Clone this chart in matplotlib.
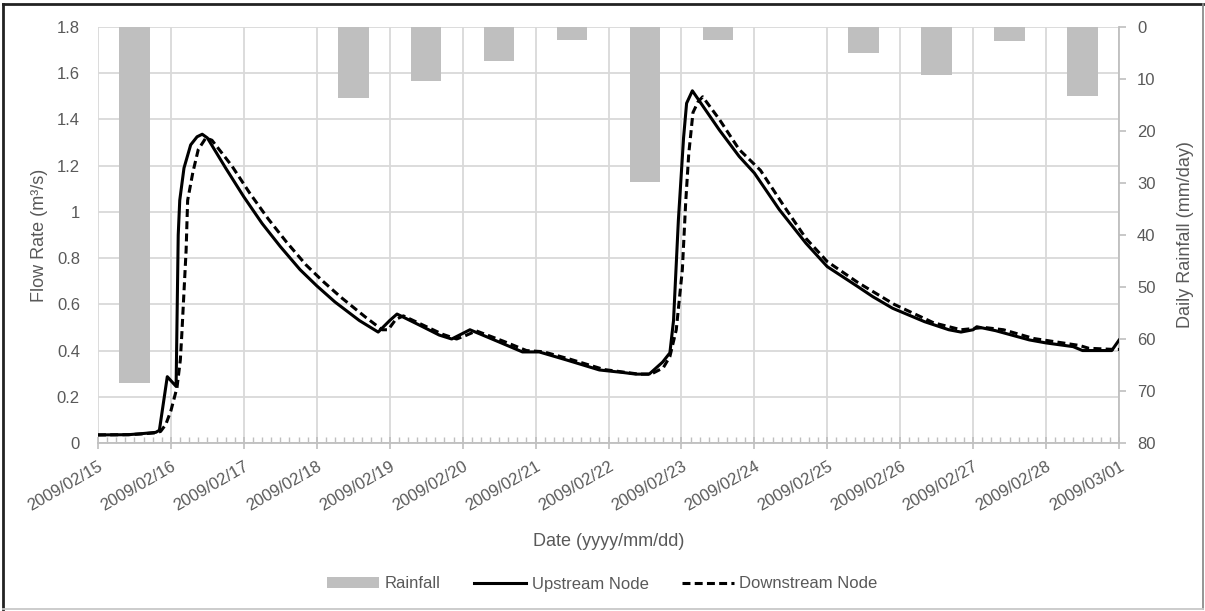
import matplotlib
matplotlib.use("Agg")
import matplotlib.pyplot as plt
import matplotlib.dates as mdates
from matplotlib.lines import Line2D
from matplotlib.patches import Patch
import pandas as pd

plt.rcParams["font.family"] = ["Liberation Sans", "DejaVu Sans"]

START = pd.Timestamp("2009-02-15 00:00")
END = pd.Timestamp("2009-03-01 00:00")

# Daily rainfall (mm/day), one bar per day centred at noon
rain_days = ["2009-02-15", "2009-02-16", "2009-02-17", "2009-02-18", "2009-02-19",
             "2009-02-20", "2009-02-21", "2009-02-22", "2009-02-23", "2009-02-24",
             "2009-02-25", "2009-02-26", "2009-02-27", "2009-02-28"]
rain_mm = [68.5, 0.0, 0.0, 13.6, 10.4, 6.5, 2.5, 29.8, 2.5, 0.0, 5.0, 9.2, 2.6, 13.2]

# Upstream node flow (m3/s), time in hours after 2009-02-15 00:00
up_hours = [0, 10, 14, 19, 20.2, 22.8, 25.7, 26.4, 26.9, 28.3, 30.5, 32.6, 34.3, 36,
            42, 48, 54, 60, 66.5, 72, 78, 86, 92.2, 96, 98.4, 105.8, 112.3, 116.4,
            122.4, 132, 139.7, 145.2, 154, 165, 172.8, 177, 181.4, 185.8, 188.2,
            189.4, 191, 192.7, 193.7, 195.6, 204.5, 211, 216, 224.2, 233, 240, 250,
            255, 261.5, 272, 280, 284, 288, 289.2, 295.4, 306.5, 312, 320.9, 324,
            332, 333.6, 336]
up_flow = [0.035, 0.036, 0.040, 0.046, 0.055, 0.287, 0.245, 0.90, 1.05, 1.19, 1.29,
           1.325, 1.336, 1.32, 1.19, 1.065, 0.95, 0.85, 0.75, 0.68, 0.61, 0.53, 0.48,
           0.53, 0.558, 0.51, 0.467, 0.45, 0.49, 0.437, 0.394, 0.394, 0.36, 0.316,
           0.305, 0.298, 0.298, 0.35, 0.39, 0.53, 0.965, 1.32, 1.47, 1.524, 1.354,
           1.24, 1.168, 1.01, 0.864, 0.763, 0.677, 0.633, 0.583, 0.525, 0.49, 0.48,
           0.49, 0.503, 0.486, 0.446, 0.433, 0.417, 0.40, 0.40, 0.40, 0.445]

# Downstream node flow (m3/s)
down_hours = [0, 10, 14, 19, 20.6, 22.3, 24, 25.2, 26, 27.1, 27.6, 29, 29.5, 31.2,
              33, 35.5, 37.5, 44, 50, 56, 62, 68.5, 74, 80, 88, 93.5, 95.5, 98,
              100.5, 107, 113.5, 118, 121, 124.5, 133.5, 141, 146.5, 155.5, 166.5,
              174, 178, 182, 186, 188.2, 190.3, 192.3, 193.4, 194.4, 195.8, 197.5,
              199, 204.5, 211, 218, 226, 233, 240, 250, 262, 275, 284, 291.6, 298,
              308, 314, 323, 326, 334, 336]
down_flow = [0.035, 0.036, 0.039, 0.044, 0.05, 0.08, 0.14, 0.2, 0.24, 0.36, 0.475,
             0.835, 1.05, 1.17, 1.27, 1.32, 1.31, 1.20, 1.08, 0.97, 0.87, 0.77,
             0.70, 0.63, 0.545, 0.49, 0.49, 0.535, 0.55, 0.51, 0.47, 0.45, 0.465,
             0.485, 0.44, 0.40, 0.395, 0.362, 0.318, 0.305, 0.298, 0.298, 0.325,
             0.374, 0.49, 0.75, 1.04, 1.25, 1.43, 1.477, 1.498, 1.40, 1.27, 1.18,
             1.02, 0.885, 0.785, 0.695, 0.60, 0.52, 0.49, 0.50, 0.49, 0.452, 0.44,
             0.422, 0.41, 0.405, 0.405]

up_t = START + pd.to_timedelta(up_hours, unit="h")
down_t = START + pd.to_timedelta(down_hours, unit="h")
rain_t = pd.to_datetime(rain_days) + pd.Timedelta(hours=12)

TEXT = "#595959"
GRID = "#d9d9d9"
AXIS = "#bfbfbf"
BAR = "#bfbfbf"
FS = 12
LW = 2.2
DASH = (0, (2.6, 1.4))

fig = plt.figure(figsize=(12.05, 6.11), dpi=100)
rect = [98 / 1205, 1 - 443 / 611, (1119 - 98) / 1205, (443 - 27) / 611]

# flow scale: grid, bottom axis and left labels
ax = fig.add_axes(rect)
ax.set_xlim(START, END)
ax.set_ylim(0, 1.8)
ax.set_yticks([0, 0.2, 0.4, 0.6, 0.8, 1.0, 1.2, 1.4, 1.6, 1.8])
ax.set_yticklabels(["0", "0.2", "0.4", "0.6", "0.8", "1", "1.2", "1.4", "1.6", "1.8"])
ax.xaxis.set_major_locator(mdates.DayLocator())
ax.xaxis.set_major_formatter(mdates.DateFormatter("%Y/%m/%d"))
ax.xaxis.set_minor_locator(mdates.HourLocator(byhour=range(0, 24, 3)))
ax.grid(True, which="major", color=GRID, linewidth=1.3)
ax.set_axisbelow(True)
for side in ["top", "left", "right"]:
    ax.spines[side].set_visible(False)
ax.spines["bottom"].set_color(AXIS)
ax.spines["bottom"].set_linewidth(1.3)
ax.tick_params(axis="y", length=0, pad=13, labelsize=FS, labelcolor=TEXT)
ax.tick_params(axis="x", which="major", direction="inout", length=9, width=1.2,
               color=AXIS, labelsize=FS, labelcolor=TEXT, pad=7)
ax.tick_params(axis="x", which="minor", direction="in", length=4, width=1.0, color=AXIS)
for lab in ax.get_xticklabels():
    lab.set_rotation(30)
    lab.set_ha("right")
    lab.set_va("top")
    lab.set_rotation_mode("anchor")
ax.set_ylabel("Flow Rate (m³/s)", fontsize=13, color=TEXT, labelpad=6)
ax.set_xlabel("Date (yyyy/mm/dd)", fontsize=13, color=TEXT, labelpad=14)

# rainfall scale on the right, inverted
axr = ax.twinx()
axr.set_ylim(80, 0)
axr.set_yticks(range(0, 81, 10))
axr.bar(rain_t, rain_mm, width=0.42, color=BAR, zorder=2)
for side in ["top", "left", "bottom"]:
    axr.spines[side].set_visible(False)
axr.spines["right"].set_color(AXIS)
axr.spines["right"].set_linewidth(1.3)
axr.tick_params(axis="y", direction="out", length=5, width=1.2, color=AXIS,
                labelsize=FS, labelcolor=TEXT, pad=8)
axr.set_ylabel("Daily Rainfall (mm/day)", fontsize=13, color=TEXT, labelpad=15)

# flow lines drawn above the bars
axl = fig.add_axes(rect, sharex=ax, sharey=ax)
axl.patch.set_visible(False)
axl.axis("off")
axl.plot(up_t, up_flow, color="black", linewidth=LW, solid_joinstyle="round")
axl.plot(down_t, down_flow, color="black", linewidth=LW, linestyle=DASH)
axl.set_xlim(START, END)
axl.set_ylim(0, 1.8)

handles = [
    Patch(facecolor=BAR, edgecolor="none", label="Rainfall"),
    Line2D([], [], color="black", linewidth=LW, label="Upstream Node"),
    Line2D([], [], color="black", linewidth=LW, linestyle=DASH, label="Downstream Node"),
]
leg = fig.legend(handles=handles, loc="center", bbox_to_anchor=(0.5, 1 - 584 / 611),
                 ncol=3, frameon=False, fontsize=FS, handlelength=3.1,
                 handleheight=0.6, handletextpad=0.35, columnspacing=2.0)
for t in leg.get_texts():
    t.set_color(TEXT)

# outer frame
fig.add_artist(Line2D([3 / 1205, 1203 / 1205], [1 - 4 / 611, 1 - 4 / 611],
                      transform=fig.transFigure, color="#222222", linewidth=2))
fig.add_artist(Line2D([3 / 1205, 3 / 1205], [1 - 4 / 611, 1 - 609 / 611],
                      transform=fig.transFigure, color="#222222", linewidth=2))
fig.add_artist(Line2D([1203 / 1205, 1203 / 1205], [1 - 4 / 611, 1 - 609 / 611],
                      transform=fig.transFigure, color="#8c8c8c", linewidth=1.3))
fig.add_artist(Line2D([3 / 1205, 1203 / 1205], [1 - 609 / 611, 1 - 609 / 611],
                      transform=fig.transFigure, color="#c8c8c8", linewidth=1.3))

fig.savefig("out.png", dpi=100)
